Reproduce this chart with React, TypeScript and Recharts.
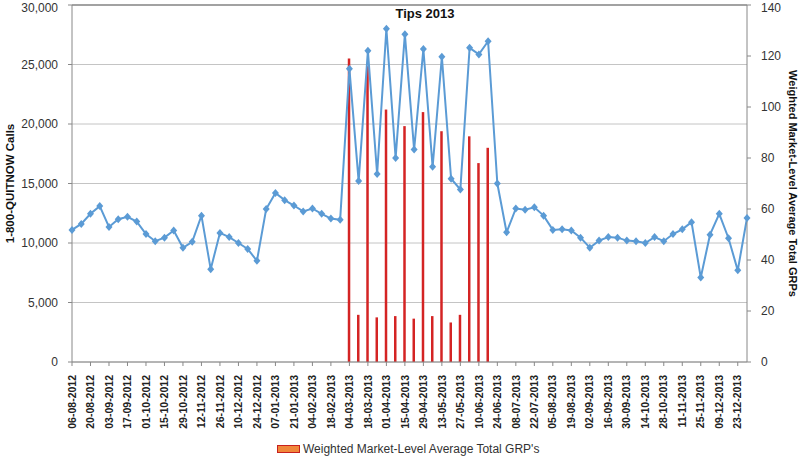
import React from 'react';
import {
  ComposedChart,
  Line,
  Bar,
  XAxis,
  YAxis,
  CartesianGrid,
  Legend,
  Label,
  ReferenceLine,
} from 'recharts';

// weekly categories (Monday of each week)
const weeks = [
  '06-08-2012', '13-08-2012', '20-08-2012', '27-08-2012', '03-09-2012', '10-09-2012', '17-09-2012', '24-09-2012',
  '01-10-2012', '08-10-2012', '15-10-2012', '22-10-2012', '29-10-2012', '05-11-2012', '12-11-2012', '19-11-2012',
  '26-11-2012', '03-12-2012', '10-12-2012', '17-12-2012', '24-12-2012', '31-12-2012', '07-01-2013', '14-01-2013',
  '21-01-2013', '28-01-2013', '04-02-2013', '11-02-2013', '18-02-2013', '25-02-2013', '04-03-2013', '11-03-2013',
  '18-03-2013', '25-03-2013', '01-04-2013', '08-04-2013', '15-04-2013', '22-04-2013', '29-04-2013', '06-05-2013',
  '13-05-2013', '20-05-2013', '27-05-2013', '03-06-2013', '10-06-2013', '17-06-2013', '24-06-2013', '01-07-2013',
  '08-07-2013', '15-07-2013', '22-07-2013', '29-07-2013', '05-08-2013', '12-08-2013', '19-08-2013', '26-08-2013',
  '02-09-2013', '09-09-2013', '16-09-2013', '23-09-2013', '30-09-2013', '07-10-2013', '14-10-2013', '21-10-2013',
  '28-10-2013', '04-11-2013', '11-11-2013', '18-11-2013', '25-11-2013', '02-12-2013', '09-12-2013', '16-12-2013',
  '23-12-2013', '30-12-2013',
];

// 1-800-QUITNOW calls per week
const calls = [
  11100, 11600, 12450, 13100, 11350, 12000, 12200, 11800, 10750, 10150,
  10450, 11050, 9600, 10100, 12300, 7800, 10850, 10500, 10000, 9500,
  8500, 12850, 14200, 13600, 13150, 12650, 12900, 12450, 12050, 11950,
  24650, 15200, 26150, 15800, 28000, 17150, 27550, 17850, 26300, 16400,
  25650, 15400, 14500, 26400, 25850, 26950, 15000, 10900, 12900, 12800,
  13000, 12300, 11100, 11150, 11050, 10450, 9600, 10200, 10500, 10450,
  10200, 10150, 10000, 10500, 10150, 10750, 11150, 11750, 7100, 10700,
  12450, 10400, 7700, 12100,
];

// campaign weeks with GRPs
const grpWeeks = [
  '04-03-2013', '11-03-2013', '18-03-2013', '25-03-2013', '01-04-2013', '08-04-2013', '15-04-2013', '22-04-2013',
  '29-04-2013', '06-05-2013', '13-05-2013', '20-05-2013', '27-05-2013', '03-06-2013', '10-06-2013', '17-06-2013',
];
const grps = [119, 18.5, 116, 17.5, 99, 18, 92.5, 17, 98, 18, 90.5, 15.5, 18.5, 88.5, 78, 84];

const leftTicks = [0, 5000, 10000, 15000, 20000, 25000, 30000];
const rightTicks = [0, 20, 40, 60, 80, 100, 120, 140];

const data = weeks.map((week, i) => {
  const g = grpWeeks.indexOf(week);
  return { idx: i, week, calls: calls[i], grp: g >= 0 ? grps[g] : null };
});

// label every other week
const xTicks = data.filter((d) => d.idx % 2 === 0).map((d) => d.idx);

const FONT = '"Liberation Sans", Arial, sans-serif';
const BLUE = '#5B9BD5';
const RED = '#D42424';

const DateTick = (props: any) => {
  const { x, y, payload } = props;
  return (
    <text
      x={x}
      y={y}
      transform={`rotate(-90 ${x} ${y})`}
      textAnchor="end"
      dy="0.35em"
      fontSize={10.5}
      fontWeight="bold"
      fill="#222"
      fontFamily={FONT}
    >
      {weeks[payload.value]}
    </text>
  );
};

const Diamond = (props: any) => {
  const { cx, cy, index } = props;
  if (cx == null || cy == null) return null;
  return (
    <path
      key={`d-${index}`}
      d={`M${cx},${cy - 4}L${cx + 3.5},${cy}L${cx},${cy + 4}L${cx - 3.5},${cy}Z`}
      fill={BLUE}
    />
  );
};

const LeftTitle = (props: any) => {
  const { viewBox } = props;
  const cx = viewBox.x + 10;
  const cy = viewBox.y + viewBox.height / 2;
  return (
    <text
      x={cx}
      y={cy}
      transform={`rotate(-90 ${cx} ${cy})`}
      textAnchor="middle"
      dominantBaseline="central"
      fontSize={11.5}
      fontWeight="bold"
      fill="#111"
      fontFamily={FONT}
    >
      1-800-QUITNOW Calls
    </text>
  );
};

const RightTitle = (props: any) => {
  const { viewBox } = props;
  const cx = viewBox.x + 46;
  const cy = viewBox.y + viewBox.height / 2;
  return (
    <text
      x={cx}
      y={cy}
      transform={`rotate(90 ${cx} ${cy})`}
      textAnchor="middle"
      dominantBaseline="central"
      fontSize={11}
      fontWeight="bold"
      fill="#111"
      fontFamily={FONT}
    >
      Weighted Market-Level Average Total GRPs
    </text>
  );
};

const renderLegend = () => (
  <div
    style={{
      height: 20,
      boxSizing: 'border-box',
      paddingTop: 6,
      paddingLeft: 277,
      display: 'flex',
      alignItems: 'center',
      fontSize: 12,
      color: '#333',
      fontFamily: FONT,
    }}
  >
    <span
      style={{
        display: 'inline-block',
        width: 21,
        height: 6,
        background: '#F0873A',
        border: '1px solid #C8201E',
        marginRight: 3,
      }}
    />
    <span>Weighted Market-Level Average Total GRP's</span>
  </div>
);

export default function App() {
  return (
    <div style={{ position: 'absolute', left: 0, top: 0, width: 800, height: 456, background: '#fff', fontFamily: FONT }}>
      <ComposedChart width={800} height={456} data={data} margin={{ top: 5, right: 0, left: 0, bottom: 0 }}>
        <CartesianGrid yAxisId="left" vertical={false} stroke="#c4c4c4" />
        <ReferenceLine yAxisId="left" y={30000} stroke="#8c8c8c" strokeWidth={1.5} />
        <XAxis
          dataKey="idx"
          type="number"
          domain={[0, weeks.length - 1]}
          ticks={xTicks}
          interval={0}
          tick={<DateTick />}
          tickSize={4}
          tickMargin={9}
          height={74}
          stroke="#888"
        />
        <YAxis
          yAxisId="left"
          domain={[0, 30000]}
          ticks={leftTicks}
          tickFormatter={(v: number) => v.toLocaleString('en-US')}
          tick={{ fontSize: 12, fill: '#333', fontFamily: FONT }}
          tickSize={4}
          tickMargin={10}
          width={72}
          stroke="#888"
        >
          <Label content={LeftTitle} />
        </YAxis>
        <YAxis
          yAxisId="right"
          orientation="right"
          domain={[0, 140]}
          ticks={rightTicks}
          tick={{ fontSize: 12, fill: '#333', fontFamily: FONT }}
          tickSize={4}
          tickMargin={10}
          width={53}
          stroke="#888"
        >
          <Label content={RightTitle} />
        </YAxis>
        <Bar yAxisId="right" dataKey="grp" barSize={2.5} fill={RED} isAnimationActive={false} />
        <Line
          yAxisId="left"
          dataKey="calls"
          stroke={BLUE}
          strokeWidth={2}
          dot={Diamond}
          activeDot={false}
          isAnimationActive={false}
        />
        <Legend verticalAlign="bottom" content={renderLegend} wrapperStyle={{ left: 0, width: 800 }} />
      </ComposedChart>
      <div
        style={{
          position: 'absolute',
          left: 385,
          top: 6,
          width: 80,
          textAlign: 'center',
          fontSize: 13,
          fontWeight: 'bold',
          color: '#111',
        }}
      >
        Tips 2013
      </div>
    </div>
  );
}
